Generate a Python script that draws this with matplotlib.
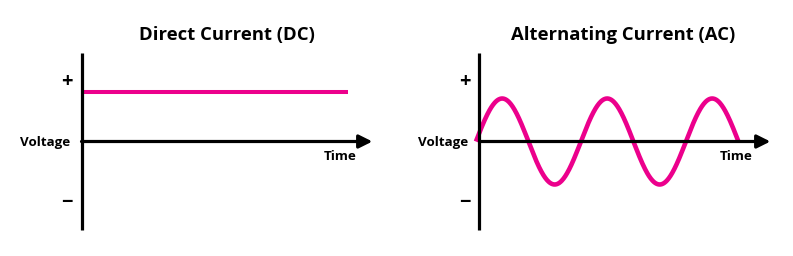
import numpy as np
import matplotlib
matplotlib.use("Agg")
import matplotlib.pyplot as plt

# ---- data ----
titles = ["Direct Current (DC)", "Alternating Current (AC)"]
y_label = "Voltage"
x_label = "Time"
sign_labels = ["+", "\u2212"]
sign_values = [1.39, -1.42]
dc_level = 1.15          # constant DC voltage (relative units)
dc_duration = 2.54       # time extent of DC line (periods)
ac_amplitude = 1.0       # AC peak voltage (relative units)
ac_cycles = 2.5          # number of AC cycles shown
ac_start = -0.034        # AC wave start time (periods)
t_max = 2.77             # time axis length
v_max = 2.05             # vertical axis half-length

pink = "#ec008c"
plt.rcParams['font.family'] = ['Open Sans', 'DejaVu Sans']
plt.rcParams['font.weight'] = 'bold'

W, H = 793, 256
fig = plt.figure(figsize=(W / 100, H / 100), dpi=100)
fig.patch.set_facecolor("white")

px_per_t = 105.0
px_per_v = 43.0
origins = [(81.5, 141.5), (479.5, 141.5)]
time_x = [2.46, 2.44]
title_x = [1.386, 1.367]
axes = []
for (ox, oy) in origins:
    w = t_max * px_per_t
    h = 2 * v_max * px_per_v
    ax = fig.add_axes([ox / W, (H - oy - h / 2) / H, w / W, h / H])
    ax.set_xlim(0, t_max)
    ax.set_ylim(-v_max, v_max)
    ax.axis("off")
    axes.append(ax)

for ax, title, tx, ttx in zip(axes, titles, time_x, title_x):
    # vertical axis
    ax.plot([0, 0], [-v_max, v_max], color="black", lw=2.3,
            solid_capstyle="butt", zorder=3, clip_on=False)
    # horizontal axis arrow
    ax.annotate("", xy=(t_max, 0), xytext=(0, 0),
                arrowprops=dict(arrowstyle="-|>", color="black", lw=2.3,
                                mutation_scale=20, shrinkA=0, shrinkB=0),
                annotation_clip=False, zorder=3)
    ax.text(-0.105, -0.02, y_label, ha="right", va="center", fontsize=9.6,
            fontweight="bold")
    ax.text(tx, -0.34, x_label, ha="center", va="center", fontsize=9.6,
            fontweight="bold")
    for lab, v in zip(sign_labels, sign_values):
        ax.text(-0.138, v, lab, ha="center", va="center", fontsize=14.5,
                fontweight="bold")
    ax.text(ttx, 2.48, title, ha="center", va="center", fontsize=13.3,
            fontweight="bold", clip_on=False)

# DC
axes[0].plot([0.0, dc_duration], [dc_level, dc_level], color=pink, lw=2.9,
             solid_capstyle="butt", zorder=2)

# AC
t = np.linspace(ac_start, ac_start + ac_cycles, 600)
axes[1].plot(t, ac_amplitude * np.sin(2 * np.pi * (t - ac_start)), color=pink,
             lw=3.3, solid_capstyle="butt", zorder=2, clip_on=False)

fig.savefig("out.png", dpi=100, facecolor="white")
